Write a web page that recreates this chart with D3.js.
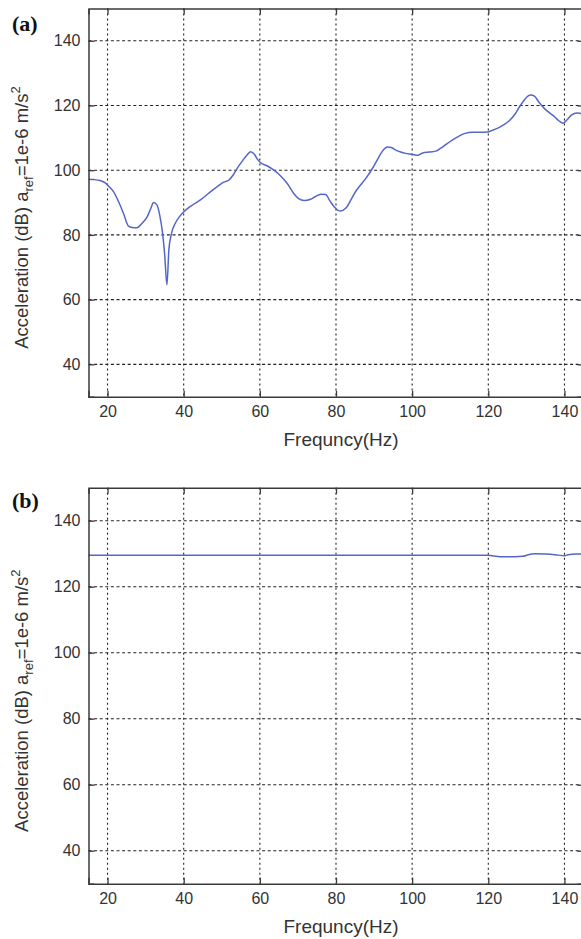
<!DOCTYPE html>
<html>
<head>
<meta charset="utf-8">
<script src="https://cdn.jsdelivr.net/npm/d3@7"></script>
<style>
  html, body { margin: 0; padding: 0; background: #fff; overflow: hidden; }
  svg { display: block; }
</style>
</head>
<body>
<svg id="chart" width="581" height="939"></svg>
<script>
// ---- data ----
const freqA = [15,16.5,18,19.4,20.5,21.6,23,24.2,25.5,26.5,27.7,29,30.4,31.3,32.1,33,33.8,34.4,35,35.6,36.1,36.7,37.8,39,40,42,44.4,46.5,48.8,50.5,51.8,53,54,55.5,56.7,57.6,58.5,59.3,60.2,62,63.7,65.4,67.2,68.9,70.2,71.6,73.3,74.5,76,77.3,78.4,79.5,80.5,81.2,82.6,84,85.2,86.5,87.8,89.6,91,91.8,92.6,93.5,94.5,95.7,97,98.3,100,101.4,102.2,103.2,104.5,106.2,107.5,109.3,111.5,113.7,115.9,118,119.8,121,122.5,124,125.5,127,128.2,129.4,130.4,131.2,132.1,133.3,134.7,136,137.4,138.6,139.6,140.7,141.8,142.8,143.5,145];
const accA = [97.2,97.1,96.8,96.1,94.8,93.3,90,86.6,82.7,82.3,82.2,83.5,85.6,88,90,89.2,85.5,81,74,64.6,75.3,80,83.6,85.8,87.1,89,90.8,92.8,94.9,96.3,96.9,98.5,100.5,103,104.8,105.7,105,103.5,102.3,101.3,100,98.3,95.9,92.8,91.2,90.6,91,91.8,92.6,92.5,90.5,88.7,87.6,87.4,88.3,91,93.5,95.5,97.4,100.6,103.5,105.2,106.5,107.2,107,106.2,105.6,105.2,104.9,104.6,105,105.5,105.6,105.9,106.8,108.3,110,111.3,111.7,111.7,111.8,112.3,113,114,115.3,117.3,119.6,121.6,122.9,123.2,122.9,121,119.1,117.8,116.5,115.2,114.5,115.6,117,117.6,117.7,117.2];

const freqB = [15,40,60,80,100,120,121.5,123,127,129,130.5,132,135,137.5,140,141,143,145];
const accB  = [129.5,129.5,129.5,129.5,129.5,129.5,129.3,129.1,129.1,129.2,129.7,130.0,129.9,129.7,129.4,129.7,129.9,129.9];

const xTicks = [20,40,60,80,100,120,140];
const yTicks = [40,60,80,100,120,140];
const xDomain = [15,145];
const yDomain = [30,150];
const panelLabels = ["(a)","(b)"];
const xLabel = "Frequncy(Hz)";

// ---- layout ----
const svg = d3.select("#chart");
const x = d3.scaleLinear().domain(xDomain).range([88.5,583.5]);
const panels = [
  { top: 8.4, bottom: 396.7, freq: freqA, acc: accA, label: panelLabels[0], labelY: 31, xLabY: 446 },
  { top: 487.7, bottom: 883.7, freq: freqB, acc: accB, label: panelLabels[1], labelY: 508, xLabY: 933 }
];

const lineColor = "#5466cb";
const axisColor = "#3a3a3a";
const font = "'Liberation Sans', Arial, sans-serif";

panels.forEach(p => {
  const y = d3.scaleLinear().domain(yDomain).range([p.bottom, p.top]);
  const g = svg.append("g");
  const x0 = x.range()[0], x1 = x.range()[1];

  // grid
  g.append("g").selectAll("line").data(yTicks).join("line")
    .attr("x1", x0).attr("x2", x1)
    .attr("y1", d => y(d)).attr("y2", d => y(d))
    .attr("stroke", "#222").attr("stroke-width", 1.1)
    .attr("stroke-dasharray", "3,2.6");
  g.append("g").selectAll("line").data(xTicks).join("line")
    .attr("x1", d => x(d)).attr("x2", d => x(d))
    .attr("y1", p.top).attr("y2", p.bottom)
    .attr("stroke", "#222").attr("stroke-width", 1.1)
    .attr("stroke-dasharray", "2,3");

  // data line
  const line = d3.line()
    .x((d, i) => x(p.freq[i]))
    .y(d => y(d))
    .curve(d3.curveMonotoneX);
  g.append("path").datum(p.acc)
    .attr("d", line)
    .attr("fill", "none")
    .attr("stroke", lineColor)
    .attr("stroke-width", 1.5);

  // axes (inward ticks)
  const bottomAx = g.append("g").attr("transform", `translate(0,${p.bottom})`)
    .call(d3.axisBottom(x).tickValues(xTicks).tickSize(-6).tickPadding(9).tickFormat(d3.format("d")));
  const topAx = g.append("g").attr("transform", `translate(0,${p.top})`)
    .call(d3.axisTop(x).tickValues(xTicks).tickSize(-6).tickFormat(""));
  const leftAx = g.append("g").attr("transform", `translate(${x0},0)`)
    .call(d3.axisLeft(y).tickValues(yTicks).tickSize(-6).tickPadding(8).tickFormat(d3.format("d")));
  const rightAx = g.append("g").attr("transform", `translate(${x1},0)`)
    .call(d3.axisRight(y).tickValues(yTicks).tickSize(-6).tickFormat(""));

  [bottomAx, topAx, leftAx, rightAx].forEach(a => {
    a.select(".domain").attr("stroke", axisColor).attr("stroke-width", 1.5);
    a.selectAll(".tick line").attr("stroke", axisColor).attr("stroke-width", 1.3);
    a.selectAll(".tick text").attr("fill", "#333").style("font-family", font).style("font-size", "16px");
  });
  [bottomAx, topAx, leftAx, rightAx].forEach(a => a.select(".domain").attr("d", function() {
    return d3.select(this).attr("d").replace(/V-?6|V6|H-?6|H6/g, "");
  }));

  // panel label
  g.append("text")
    .attr("x", 12).attr("y", p.labelY)
    .style("font-family", "'Liberation Serif','Times New Roman',serif")
    .style("font-weight", "bold").style("font-size", "22px")
    .attr("fill", "#111")
    .text(p.label);

  // x label
  g.append("text")
    .attr("x", 341).attr("y", p.xLabY)
    .attr("text-anchor", "middle")
    .style("font-family", font).style("font-size", "19px")
    .attr("fill", "#333")
    .text(xLabel);

  // y label
  const cy = (p.top + p.bottom) / 2 + 15;
  const yl = g.append("text")
    .attr("transform", `translate(28,${cy}) rotate(-90)`)
    .attr("text-anchor", "middle")
    .style("font-family", font).style("font-size", "18.5px")
    .attr("fill", "#333");
  yl.append("tspan").text("Acceleration (dB) a");
  yl.append("tspan").attr("dy", 5).style("font-size", "13px").text("ref");
  yl.append("tspan").attr("dy", -5).text("=1e-6 m/s");
  yl.append("tspan").attr("dy", -8).style("font-size", "13px").text("2");
});
</script>
</body>
</html>
